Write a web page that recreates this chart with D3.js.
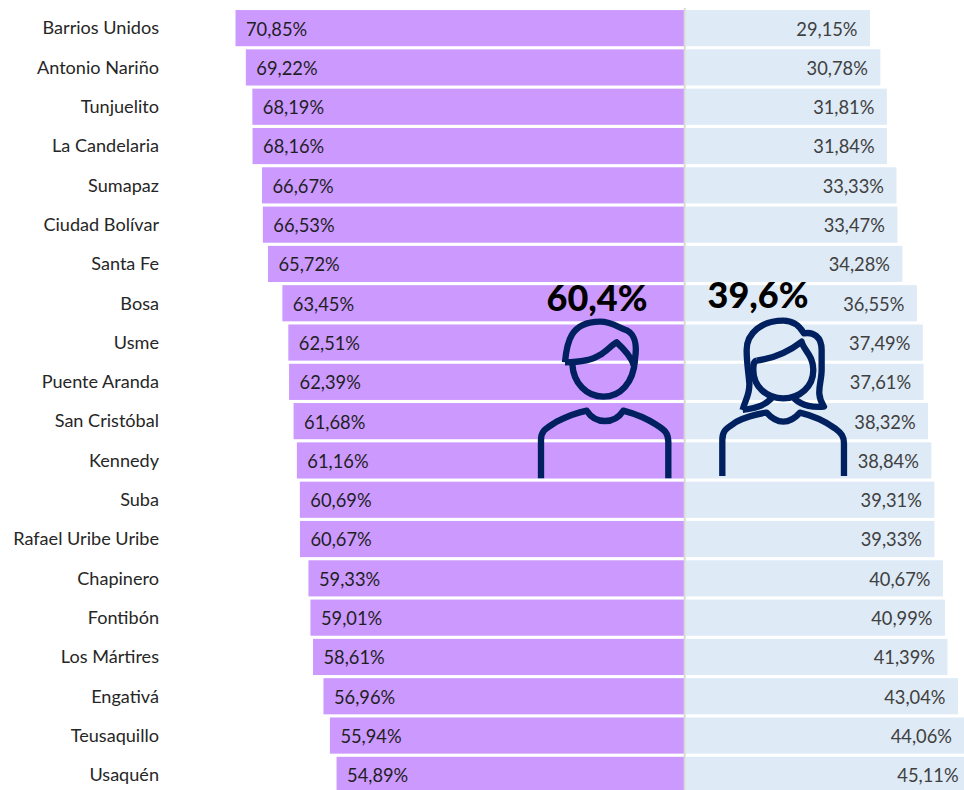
<!DOCTYPE html>
<html>
<head>
<meta charset="utf-8">
<script src="https://cdnjs.cloudflare.com/ajax/libs/d3/7.8.5/d3.min.js"></script>
<style>
  html, body { margin: 0; padding: 0; background: #fff; overflow: hidden; }
  svg { display: block; }
</style>
</head>
<body>
<script>
const localidades = ['Barrios Unidos', 'Antonio Nariño', 'Tunjuelito', 'La Candelaria', 'Sumapaz',
    'Ciudad Bolívar', 'Santa Fe', 'Bosa', 'Usme', 'Puente Aranda', 'San Cristóbal', 'Kennedy', 'Suba',
    'Rafael Uribe Uribe', 'Chapinero', 'Fontibón', 'Los Mártires', 'Engativá', 'Teusaquillo', 'Usaquén'];
const hombres = [70.85, 69.22, 68.19, 68.16, 66.67, 66.53, 65.72, 63.45, 62.51, 62.39,
    61.68, 61.16, 60.69, 60.67, 59.33, 59.01, 58.61, 56.96, 55.94, 54.89];
const mujeres = [29.15, 30.78, 31.81, 31.84, 33.33, 33.47, 34.28, 36.55, 37.49, 37.61,
    38.32, 38.84, 39.31, 39.33, 40.67, 40.99, 41.39, 43.04, 44.06, 45.11];
const totalHombres = '60,4%';
const totalMujeres = '39,6%';

const width = 964, height = 790;
const centro = 684;
const pxPorPunto = 6.33;

const svg = d3.select('body').append('svg')
    .attr('width', width)
    .attr('height', height);

const y = d3.scaleBand()
    .domain(localidades)
    .range([8.5, 794.5])
    .paddingInner(0.08)
    .paddingOuter(0.04);

const xHombres = d3.scaleLinear().domain([0, 100]).range([centro, centro - 100 * pxPorPunto]);
const xMujeres = d3.scaleLinear().domain([0, 100]).range([centro + 1.5, centro + 1.5 + 100 * pxPorPunto]);

const fmt = v => v.toFixed(2).replace('.', ',') + '%';
const fuente = 'Lato, "Open Sans", sans-serif';

// barras hombres
svg.selectAll('rect.hombres')
    .data(hombres)
    .join('rect')
    .attr('class', 'hombres')
    .attr('x', d => xHombres(d))
    .attr('y', (d, i) => y(localidades[i]))
    .attr('width', d => xHombres(0) - xHombres(d))
    .attr('height', y.bandwidth())
    .attr('fill', '#cc99ff');

// barras mujeres
svg.selectAll('rect.mujeres')
    .data(mujeres)
    .join('rect')
    .attr('class', 'mujeres')
    .attr('x', xMujeres(0))
    .attr('y', (d, i) => y(localidades[i]))
    .attr('width', d => xMujeres(d) - xMujeres(0))
    .attr('height', y.bandwidth())
    .attr('fill', '#deeaf6');

// linea central
svg.append('line')
    .attr('x1', centro + 0.7).attr('x2', centro + 0.7)
    .attr('y1', 8).attr('y2', height)
    .attr('stroke', '#d9d9d9')
    .attr('stroke-width', 2);

// etiquetas
svg.selectAll('text.vh')
    .data(hombres)
    .join('text')
    .attr('class', 'vh')
    .attr('x', d => xHombres(d) + 10.5)
    .attr('y', (d, i) => y(localidades[i]) + y.bandwidth() / 2 + 1)
    .attr('dy', '0.35em')
    .attr('font-family', fuente)
    .attr('font-size', 18.3)
    .attr('fill', '#1f1f1f')
    .text(fmt);

svg.selectAll('text.vm')
    .data(mujeres)
    .join('text')
    .attr('class', 'vm')
    .attr('x', d => xMujeres(d) - 12.5)
    .attr('y', (d, i) => y(localidades[i]) + y.bandwidth() / 2 + 1)
    .attr('dy', '0.35em')
    .attr('text-anchor', 'end')
    .attr('font-family', fuente)
    .attr('font-size', 18.3)
    .attr('fill', '#404040')
    .text(fmt);

// eje de localidades
const ejeY = svg.append('g')
    .attr('transform', 'translate(159,0.5)')
    .call(d3.axisLeft(y).tickSize(0).tickPadding(0));
ejeY.select('.domain').remove();
ejeY.selectAll('text')
    .attr('font-family', fuente)
    .attr('font-size', 18.1)
    .attr('fill', '#262626');

// totales
svg.append('text')
    .attr('x', 597).attr('y', 311)
    .attr('text-anchor', 'middle')
    .attr('font-family', fuente)
    .attr('font-weight', 900)
    .attr('font-size', 36)
    .attr('fill', '#000')
    .text(totalHombres);
svg.append('text')
    .attr('x', 758).attr('y', 308)
    .attr('text-anchor', 'middle')
    .attr('font-family', fuente)
    .attr('font-weight', 900)
    .attr('font-size', 36)
    .attr('fill', '#000')
    .text(totalMujeres);

// iconos
const iconos = svg.append('g')
    .attr('transform', 'translate(520,270) scale(0.3333)')
    .attr('fill', 'none')
    .attr('stroke', '#002060')
    .attr('stroke-width', 19)
    .attr('stroke-linejoin', 'round');

const hombreIcono = [
    'M135 277 C140 220 150 155 240 155 C275 155 295 172 312 178 C340 186 350 215 347 250 C346 265 345 275 340 290',
    'M135 277 C170 277 215 272 240 255 C260 243 275 225 290 217 C310 235 330 255 342 285',
    'M157 282 C160 340 200 380 250 380 C300 380 340 340 345 270',
    'M63 625 L63 510 C63 480 80 475 110 455 C140 440 170 428 200 422 C215 445 235 453 255 453 C275 453 295 445 310 422 C340 430 380 445 410 465 C435 480 445 490 445 515 L445 625'
];
const mujerIcono = [
    'M668 420 C675 390 690 375 688 340 C686 310 680 280 680 240 C680 190 725 152 790 152 C820 152 840 170 852 190 C880 185 905 200 905 240 L905 300 C905 340 885 370 912 410 C880 412 850 410 822 385',
    'M668 420 C720 412 735 405 755 385',
    'M710 272 C760 265 800 250 845 215 C850 240 880 255 880 300 C880 350 840 385 790 385 C740 385 700 350 700 300 C700 285 700 275 710 272',
    'M607 618 L607 510 C607 480 620 475 650 455 C680 440 710 432 740 428 C755 445 770 455 790 455 C810 455 825 445 840 428 C870 435 910 450 945 475 C965 490 972 500 972 520 L972 618'
];
iconos.selectAll('path')
    .data(hombreIcono.concat(mujerIcono))
    .join('path')
    .attr('d', d => d);
</script>
</body>
</html>
